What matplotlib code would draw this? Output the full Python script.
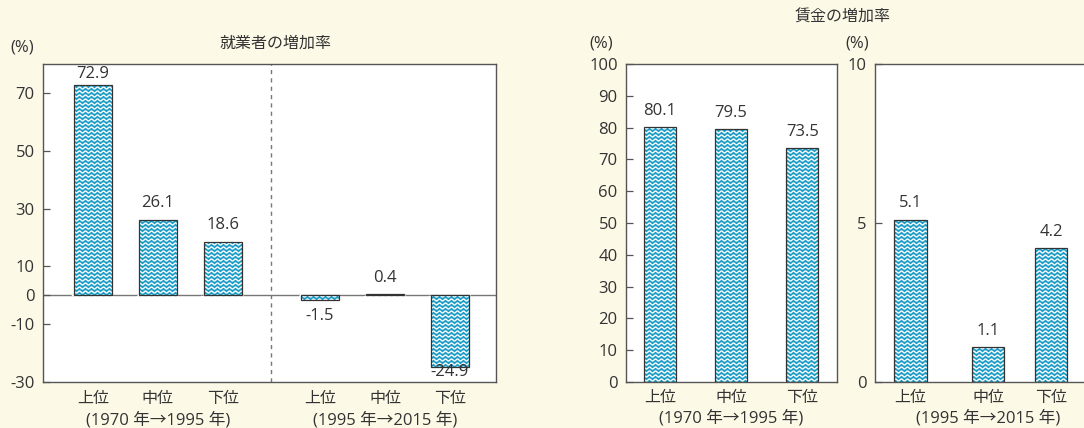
import numpy as np
import matplotlib.pyplot as plt
from matplotlib.collections import LineCollection
from matplotlib.transforms import IdentityTransform

plt.rcParams['font.family'] = ['Open Sans', 'Noto Sans CJK JP', 'DejaVu Sans']
plt.rcParams['axes.unicode_minus'] = False

# data
ranks = ['上位', '中位', '下位']
period1 = '(1970 年→1995 年)'
period2 = '(1995 年→2015 年)'
emp_1970_1995 = [72.9, 26.1, 18.6]
emp_1995_2015 = [-1.5, 0.4, -24.9]
wage_1970_1995 = [80.1, 79.5, 73.5]
wage_1995_2015 = [5.1, 1.1, 4.2]

W, H = 1084, 428
BG = '#fdf9e7'
BLUE = '#189bc4'
TXT = '#333333'
SPINE = '#555555'
FS = 12      # numbers
FS_JP = 11.5  # japanese labels

fig = plt.figure(figsize=(W / 100, H / 100), dpi=100, facecolor=BG)


def px_axes(left, top, right, bottom):
    return fig.add_axes([left / W, 1 - bottom / H, (right - left) / W, (bottom - top) / H])


def style(ax):
    ax.set_facecolor('white')
    for s in ax.spines.values():
        s.set_color(SPINE)
        s.set_linewidth(1.0)
    ax.tick_params(axis='y', direction='in', length=5, width=0.9, color=SPINE,
                   labelsize=FS, labelcolor=TXT, pad=6)
    ax.tick_params(axis='x', length=0, labelbottom=False)


def wavy(ax, bars):
    # white wave pattern drawn in pixel space and clipped to each bar
    for b in bars:
        (x0, y0), (x1, y1) = ax.transData.transform(b.get_bbox().get_points())
        ylo, yhi = min(y0, y1), max(y0, y1)
        xs = np.arange(np.floor(x0) - 2, np.ceil(x1) + 2, 0.5)
        segs = []
        for yr in np.arange(np.floor(ylo / 4) * 4 - 4, yhi + 4, 4):
            ys = yr + 1.0 * np.sin(2 * np.pi * xs / 6.0)
            segs.append(np.column_stack([xs, ys]))
        lc = LineCollection(segs, colors='white', linewidths=1.0,
                            transform=IdentityTransform(), zorder=3)
        lc.set_clip_path(b)
        ax.add_collection(lc)


def draw_bars(ax, x, vals, width):
    bars = ax.bar(x, vals, width, color=BLUE, linewidth=0, zorder=2)
    wavy(ax, bars)
    # outline on top of the pattern
    ax.bar(x, vals, width, fill=False, edgecolor='#333333', linewidth=0.9, zorder=4)


def value_labels(ax, x, vals, off_px=16.5, margin_px=9.5):
    y0, y1 = ax.get_ylim()
    hpx = ax.get_position().height * H
    ppu = hpx / (y1 - y0)
    for xi, v in zip(x, vals):
        yc = v + (off_px if v >= 0 else -off_px) / ppu
        yc = min(max(yc, y0 + margin_px / ppu), y1 - margin_px / ppu)
        ax.text(xi, yc, f'{v:.1f}', ha='center', va='center', fontsize=FS, color=TXT, zorder=5)


def fig_text(xp, yp, s, size=FS_JP, **kw):
    fig.text(xp / W, 1 - yp / H, s, ha='center', va='center', fontsize=size, color=TXT, **kw)


# ---- left panel: employment
ax1 = px_axes(43, 64, 496, 382)
style(ax1)
x1a = np.array([0, 1, 2])
x1b = np.array([3.5, 4.5, 5.5])
ax1.set_xlim(-0.77, 6.21)
ax1.set_ylim(-30, 80)
ax1.set_yticks([-30, -10, 0, 10, 30, 50, 70])
ax1.axhline(0, color='#777777', lw=1.0, zorder=1)
ax1.axvline(2.75, color='#777777', lw=1.0, ls=(0, (3, 3)), zorder=1)
draw_bars(ax1, x1a, emp_1970_1995, 0.58)
draw_bars(ax1, x1b, emp_1995_2015, 0.58)
value_labels(ax1, x1a, emp_1970_1995)
value_labels(ax1, x1b, emp_1995_2015)

# ---- middle panel: wages 1970-1995
ax2 = px_axes(626, 64, 837, 382)
style(ax2)
x2 = np.array([0, 1, 2])
ax2.set_xlim(-0.48, 2.49)
ax2.set_ylim(0, 100)
ax2.set_yticks(range(0, 101, 10))
draw_bars(ax2, x2, wage_1970_1995, 0.45)
value_labels(ax2, x2, wage_1970_1995)

# ---- right panel: wages 1995-2015 (cut off at the figure edge)
ax3 = px_axes(875, 64, 1095, 382)
style(ax3)
x3 = np.array([0, 1.23, 2.23])
ax3.set_xlim(-0.565, 2.925)
ax3.set_ylim(0, 10)
ax3.set_yticks([0, 5, 10])
draw_bars(ax3, x3, wage_1995_2015, 0.514)
value_labels(ax3, x3, wage_1995_2015)

# category and period labels under the axes
def cat_labels(ax, x, period, yc=398, yp=418):
    for xi, r in zip(x, ranks):
        xp = ax.transData.transform((xi, 0))[0]
        fig_text(xp, yc, r)
    xm = ax.transData.transform((x[1], 0))[0]
    fig_text(xm, yp, period, size=FS)


cat_labels(ax1, x1a, period1, 399, 420)
cat_labels(ax1, x1b, period2, 399, 420)
cat_labels(ax2, x2, period1)
cat_labels(ax3, x3, period2)

# titles and units
fig_text(275, 44, '就業者の増加率')
fig_text(843, 18, '賃金の増加率')
fig_text(22, 48, '(%)', size=FS)
fig_text(601, 44, '(%)', size=FS)
fig_text(857, 44, '(%)', size=FS)

fig.savefig('out.png', dpi=100, facecolor=BG)
